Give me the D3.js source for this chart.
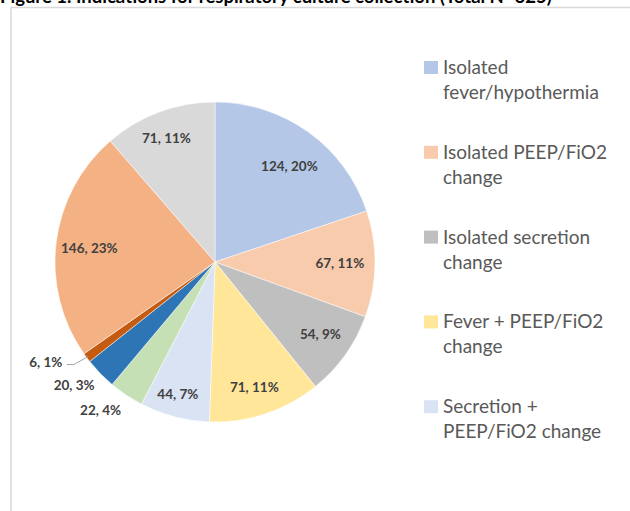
<!DOCTYPE html>
<html><head><meta charset="utf-8">
<script src="https://cdn.jsdelivr.net/npm/d3@7"></script>
<style>html,body{margin:0;padding:0;background:#fff;overflow:hidden}</style>
</head><body>
<svg id="c" width="630" height="511"></svg>
<script>
const titleText = "Figure 1. Indications for respiratory culture collection (Total N=625)";
const categories = [
  "Isolated fever/hypothermia",
  "Isolated PEEP/FiO2 change",
  "Isolated secretion change",
  "Fever + PEEP/FiO2 change",
  "Secretion + PEEP/FiO2 change",
  "Fever + secretion change",
  "Fever + secretion + PEEP/FiO2 change",
  "Other",
  "Routine/surveillance",
  "Unknown"
];
const counts = [124, 67, 54, 71, 44, 22, 20, 6, 146, 71];
const percents = [20, 11, 9, 11, 7, 4, 3, 1, 23, 11];
const legendLines = [
  ["Isolated", "fever/hypothermia"],
  ["Isolated PEEP/FiO2", "change"],
  ["Isolated secretion", "change"],
  ["Fever + PEEP/FiO2", "change"],
  ["Secretion +", "PEEP/FiO2 change"]
];
const colors = ["#b4c7e7","#f8cbad","#bfbfbf","#ffe699","#dae3f3","#c5e0b4","#2e75b6","#c55a11","#f4b183","#d9d9d9"];
// label placement: radius factor and angular shift (degrees)
const labelPlace = [[0.76,2],[0.78,0],[0.80,-1],[0.82,1],[0.86,1],[1.17,4],[1.17,3],[1.23,6],[0.79,-1],[0.83,-1]];

const svg = d3.select("#c");
svg.append("rect").attr("x",11).attr("y",7.5).attr("width",640).attr("height",520)
  .attr("fill","#fff").attr("stroke","#d9d9d9").attr("stroke-width",1.5);
svg.append("text").attr("x",0).attr("y",3).text(titleText)
  .attr("font-family","Lato, sans-serif").attr("font-weight","bold")
  .attr("font-size",18.5).attr("fill","#000");

const cx = 215, cy = 262, R = 160;
const g = svg.append("g").attr("transform",`translate(${cx},${cy})`);
const data = categories.map((c,i)=>({c, v:counts[i], p:percents[i], i}));
const pie = d3.pie().value(d=>d.v).sort(null);
const arcs = pie(data);
const arc = d3.arc().innerRadius(0).outerRadius(R);
g.selectAll("path").data(arcs).join("path").attr("d",arc)
  .attr("fill",(d,i)=>colors[i]).attr("stroke","#fff").attr("stroke-width",0.5);

const lblFont = "Lato, 'Open Sans', sans-serif";
arcs.forEach((a,i)=>{
  const [rf, shift] = labelPlace[i];
  const ang = (a.startAngle + a.endAngle)/2 + shift*Math.PI/180;
  const r = R*rf;
  const x = r*Math.sin(ang), y = -r*Math.cos(ang);
  g.append("text").attr("x",x).attr("y",y).attr("dy","0.35em")
    .attr("text-anchor","middle").attr("font-family",lblFont).attr("font-weight","bold")
    .attr("font-size",13.5).attr("fill","#404040")
    .text(`${a.data.v}, ${a.data.p}%`);
  if (a.data.v === 6) {
    const m = (a.startAngle + a.endAngle)/2;
    const ex = (R-2)*Math.sin(m), ey = -(R-2)*Math.cos(m);
    g.append("polyline")
      .attr("points", `${x+21},${y+2} ${x+28},${y+2} ${ex},${ey}`)
      .attr("fill","none").attr("stroke","#a6a6a6").attr("stroke-width",1);
  }
});

const lg = svg.append("g");
legendLines.forEach((lines,i)=>{
  const y0 = 61 + i*84.8;
  lg.append("rect").attr("x",424).attr("y",y0).attr("width",14).attr("height",13).attr("fill",colors[i]);
  lines.forEach((t,j)=>{
    lg.append("text").attr("x",443).attr("y",y0+13 + j*25).text(t)
      .attr("font-family","Lato, 'Open Sans', sans-serif").attr("font-size",19).attr("fill","#595959");
  });
});
</script>
</body></html>
